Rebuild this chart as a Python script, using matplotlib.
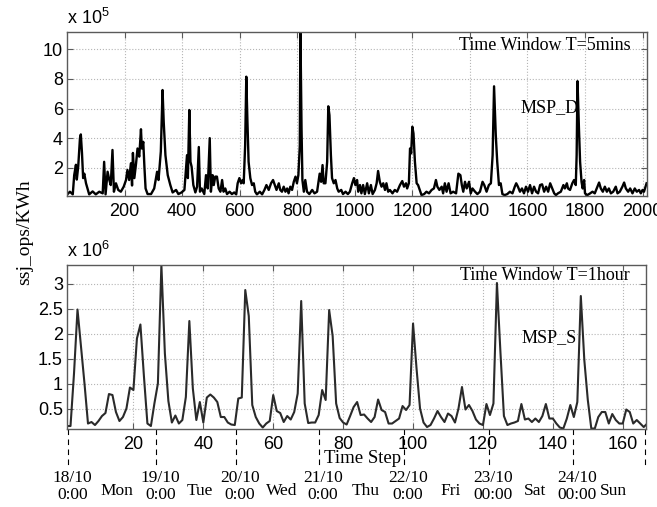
"""Two-panel MSP chart: 5-min and 1-hour time windows."""
import numpy as np
import matplotlib
matplotlib.use('Agg')
import matplotlib.pyplot as plt
from matplotlib.transforms import blended_transform_factory

# ── Data: top panel (T=5mins), values in units of 1e5 ───────────────────
top_step = [
    2, 10, 20, 25, 31, 34, 39, 45, 48, 52, 56, 60,
    66, 71, 77, 89, 100, 112, 124, 129, 134, 141, 147, 152,
    158, 163, 170, 178, 187, 197, 205, 210, 216, 222, 226, 229,
    234, 240, 245, 251, 257, 260, 265, 269, 273, 280, 292, 303,
    313, 318, 326, 332, 336, 342, 350, 359, 367, 379, 387, 398,
    408, 417, 420, 425, 429, 433, 439, 446, 452, 458, 462, 468,
    477, 483, 489, 496, 500, 506, 510, 515, 521, 527, 533, 539,
    544, 550, 556, 565, 573, 581, 588, 593, 599, 605, 610, 614,
    619, 623, 627, 631, 637, 643, 649, 654, 660, 670, 678, 686,
    693, 701, 709, 716, 722, 728, 736, 741, 747, 753, 759, 765,
    770, 776, 782, 788, 794, 799, 804, 809, 811, 815, 818, 823,
    828, 834, 842, 852, 860, 869, 875, 878, 883, 888, 892, 898,
    904, 908, 912, 917, 921, 927, 933, 939, 944, 953, 959, 968,
    976, 983, 991, 997, 1002, 1008, 1012, 1018, 1023, 1029, 1035, 1043,
    1049, 1056, 1062, 1070, 1076, 1081, 1087, 1093, 1099, 1105, 1110, 1116,
    1122, 1131, 1139, 1147, 1157, 1165, 1171, 1178, 1182, 1188, 1192, 1196,
    1200, 1204, 1209, 1215, 1220, 1226, 1232, 1241, 1249, 1258, 1267, 1275,
    1282, 1287, 1294, 1302, 1307, 1313, 1319, 1326, 1333, 1342, 1352, 1360,
    1367, 1372, 1377, 1383, 1389, 1397, 1403, 1409, 1418, 1426, 1435, 1444,
    1450, 1458, 1466, 1473, 1479, 1484, 1490, 1495, 1501, 1507, 1513, 1521,
    1530, 1539, 1548, 1556, 1561, 1567, 1574, 1581, 1588, 1595, 1602, 1609,
    1616, 1623, 1630, 1637, 1644, 1651, 1658, 1665, 1672, 1679, 1686, 1693,
    1699, 1706, 1716, 1725, 1730, 1737, 1741, 1748, 1756, 1762, 1768, 1771,
    1774, 1779, 1783, 1788, 1792, 1797, 1800, 1808, 1818, 1826, 1834, 1843,
    1849, 1855, 1862, 1869, 1876, 1883, 1890, 1898, 1907, 1913, 1921, 1930,
    1936, 1942, 1950, 1957, 1965, 1973, 1980, 1988, 1994, 2000, 2005, 2014,
]
top_value = [
    0.22, 0.38, 0.20, 1.50, 2.20, 1.20, 2.10, 4.00, 4.25, 3.00, 1.30, 1.60,
    0.95, 0.60, 0.20, 0.40, 0.20, 0.38, 0.27, 2.40, 0.20, 1.73, 1.17, 0.83,
    3.20, 0.38, 0.95, 0.50, 0.38, 0.72, 1.17, 1.85, 1.17, 2.30, 0.80, 3.00,
    1.30, 2.30, 3.30, 2.75, 4.60, 3.30, 3.75, 2.05, 0.60, 0.22, 0.22, 0.60,
    1.73, 1.17, 3.10, 7.25, 5.10, 2.85, 1.50, 0.83, 0.33, 0.50, 0.22, 0.33,
    0.50, 2.85, 1.30, 5.90, 2.40, 2.07, 0.83, 0.33, 0.72, 3.40, 0.38, 0.60,
    0.22, 1.50, 0.60, 4.00, 0.38, 1.50, 0.83, 1.40, 1.40, 0.60, 0.38, 1.17,
    0.38, 0.60, 0.22, 0.38, 0.22, 0.33, 0.20, 0.95, 1.30, 0.95, 1.17, 0.95,
    3.50, 8.15, 5.10, 2.40, 1.30, 0.83, 0.95, 0.38, 0.20, 0.38, 0.20, 0.50,
    0.83, 0.50, 0.95, 1.17, 0.83, 0.50, 0.95, 0.50, 0.38, 0.72, 0.38, 0.60,
    0.27, 0.72, 0.50, 1.05, 1.40, 0.95, 1.50, 3.50, 11.5, 4.65, 1.17, 0.38,
    1.17, 0.38, 0.22, 0.50, 0.27, 0.38, 1.17, 1.60, 1.05, 2.18, 0.95, 0.95,
    2.40, 6.15, 5.55, 2.85, 1.30, 0.95, 1.17, 0.60, 0.38, 0.50, 0.22, 0.38,
    0.22, 0.38, 0.95, 1.30, 0.83, 1.17, 0.38, 0.83, 0.27, 0.83, 0.22, 0.95,
    0.27, 0.83, 0.22, 0.50, 0.95, 1.78, 1.05, 0.72, 0.95, 0.50, 0.95, 0.38,
    0.50, 0.27, 0.50, 0.38, 0.83, 1.10, 0.72, 0.95, 0.60, 0.95, 3.30, 2.97,
    4.77, 4.32, 2.40, 0.95, 0.83, 0.50, 0.15, 0.22, 0.38, 0.27, 0.50, 0.60,
    1.17, 0.72, 0.50, 0.72, 0.27, 0.95, 0.38, 0.95, 0.27, 0.38, 0.27, 1.60,
    1.50, 0.83, 0.38, 1.05, 0.60, 1.05, 0.27, 0.60, 0.38, 0.22, 0.38, 1.05,
    0.83, 0.38, 0.83, 0.95, 2.85, 7.50, 4.20, 2.40, 0.83, 0.95, 0.22, 0.15,
    0.22, 0.38, 0.27, 0.72, 0.95, 0.72, 0.38, 0.60, 0.27, 0.72, 0.38, 0.83,
    0.27, 0.72, 0.38, 0.27, 0.83, 0.88, 0.38, 0.72, 0.38, 0.95, 0.60, 0.27,
    0.15, 0.27, 0.38, 0.83, 0.60, 0.95, 0.60, 0.50, 0.95, 1.17, 0.83, 2.85,
    7.85, 4.65, 2.40, 1.05, 0.60, 1.17, 0.27, 0.15, 0.27, 0.38, 0.27, 0.72,
    1.00, 0.60, 0.38, 0.72, 0.38, 0.60, 0.27, 0.38, 0.72, 0.27, 0.38, 0.72,
    1.00, 0.60, 0.38, 0.60, 0.27, 0.60, 0.38, 0.50, 0.27, 0.50, 0.38, 0.95,
]
assert len(top_step) == len(top_value)

# ── Data: bottom panel (T=1hour), values in units of 1e6 ────────────────
hour_value = [
    0.15, 0.15, 1.20, 2.48, 1.75, 1.00, 0.20, 0.23, 0.17, 0.25,   # 1-10
    0.35, 0.41, 0.79, 0.77, 0.43, 0.25, 0.33, 0.50, 0.92, 0.87,   # 11-20
    1.90, 2.18, 1.15, 0.20, 0.15, 0.60, 1.00, 3.37, 1.60, 0.65,   # 21-30
    0.22, 0.36, 0.20, 0.27, 0.73, 2.25, 0.90, 0.27, 0.63, 0.22,   # 31-40
    0.72, 0.78, 0.72, 0.63, 0.33, 0.33, 0.22, 0.18, 0.17, 0.70,   # 41-50
    0.72, 2.87, 2.35, 0.57, 0.33, 0.20, 0.12, 0.20, 0.25, 0.77,   # 51-60
    0.45, 0.41, 0.23, 0.35, 0.28, 0.43, 0.80, 2.65, 0.60, 0.21,   # 61-70
    0.22, 0.22, 0.37, 0.87, 0.67, 2.47, 1.95, 0.60, 0.31, 0.22,   # 71-80
    0.18, 0.35, 0.53, 0.63, 0.37, 0.38, 0.30, 0.23, 0.33, 0.68,   # 81-90
    0.47, 0.43, 0.20, 0.20, 0.25, 0.30, 0.55, 0.47, 0.57, 2.20,   # 91-100
    1.30, 0.50, 0.22, 0.13, 0.17, 0.30, 0.45, 0.33, 0.23, 0.40,   # 101-110
    0.35, 0.22, 0.50, 0.93, 0.48, 0.57, 0.45, 0.28, 0.20, 0.17,   # 111-120
    0.59, 0.37, 0.60, 3.01, 1.63, 0.35, 0.17, 0.20, 0.22, 0.25,   # 121-130
    0.59, 0.28, 0.30, 0.23, 0.30, 0.23, 0.35, 0.59, 0.30, 0.30,   # 131-140
    0.20, 0.12, 0.10, 0.30, 0.57, 0.33, 0.63, 2.75, 1.47, 0.67,   # 141-150
    0.10, 0.10, 0.33, 0.43, 0.43, 0.20, 0.39, 0.27, 0.20, 0.20,   # 151-160
    0.48, 0.43, 0.20, 0.27, 0.20, 0.13, 0.20,                     # 161-167
]
hour_step = np.arange(1, len(hour_value) + 1)

day_start = [1.4, 26.5, 49.3, 73.0, 97.4, 121.7, 145.7, 166.3]
day_date = ['18/10\n0:00', '19/10\n0:00', '20/10\n0:00', '21/10\n0:00',
            '22/10\n0:00', '23/10\n00:00', '24/10\n00:00', '']
day_name = ['Mon', 'Tue', 'Wed', 'Thu', 'Fri', 'Sat', 'Sun']

SANS = 'Liberation Sans'
SERIF = 'Liberation Serif'
plt.rcParams.update({'font.family': SANS, 'mathtext.fontset': 'custom',
                     'mathtext.rm': SANS, 'mathtext.it': SANS})

fig = plt.figure(figsize=(6.57, 5.07), dpi=100)
ax1 = fig.add_axes([0.102, 0.6134, 0.883, 0.3235])
ax2 = fig.add_axes([0.102, 0.1538, 0.881, 0.3235])


def style(ax):
    for sp in ax.spines.values():
        sp.set_color('#5a5a5a')
        sp.set_linewidth(1.0)
    ax.tick_params(direction='in', top=True, right=True, length=4, width=0.8,
                   color='#5a5a5a', labelsize=13, pad=5)
    ax.tick_params(axis='y', pad=3)
    ax.grid(True, ls=':', color='#b5b5b5', lw=0.8)
    ax.set_axisbelow(True)


# ── Painel superior ─────────────────────────────────────────────────────
ax1.plot(top_step, top_value, color='black', lw=1.7)
ax1.set_xlim(0, 2016)
ax1.set_ylim(0.09, 11.17)
ax1.set_xticks(np.arange(200, 2001, 200))
ax1.set_yticks([2, 4, 6, 8, 10])
style(ax1)
ax1.text(0.0, 1.025, r'x 10$^{5}$', transform=ax1.transAxes, fontsize=13,
         ha='left', va='bottom')
ax1.text(0.971, 0.92, 'Time Window T=5mins', transform=ax1.transAxes,
         family=SERIF, fontsize=13, ha='right', va='center')
ax1.text(0.781, 0.537, 'MSP_D', transform=ax1.transAxes,
         family=SERIF, fontsize=13, ha='left', va='center')

# ── Painel inferior ─────────────────────────────────────────────────────
ax2.plot(hour_step, hour_value, color='#2a2a2a', lw=1.5)
ax2.set_xlim(1, 166.6)
ax2.set_ylim(0.09, 3.37)
ax2.set_xticks(np.arange(20, 161, 20))
ax2.set_yticks([0.5, 1, 1.5, 2, 2.5, 3])
ax2.set_yticklabels(['0.5', '1', '1.5', '2', '2.5', '3'])
style(ax2)
ax2.text(0.0, 1.025, r'x 10$^{6}$', transform=ax2.transAxes, fontsize=13,
         ha='left', va='bottom')
ax2.text(0.972, 0.939, 'Time Window T=1hour', transform=ax2.transAxes,
         family=SERIF, fontsize=13, ha='right', va='center')
ax2.text(0.786, 0.555, 'MSP_S', transform=ax2.transAxes,
         family=SERIF, fontsize=13, ha='left', va='center')
ax2.text(0.51, -0.18, 'Time Step', transform=ax2.transAxes,
         family=SERIF, fontsize=13.5, ha='center', va='center')

# day boundaries below the axis
trans = blended_transform_factory(ax2.transData, ax2.transAxes)
for x0, lab in zip(day_start, day_date):
    ax2.plot([x0, x0], [0, -0.225], transform=trans, clip_on=False,
             color='black', lw=0.8, ls=(0, (5, 4)))
    if lab:
        ax2.text(x0 + 1.2, -0.35, lab, transform=trans, family=SERIF,
                 fontsize=12.5, ha='center', va='center', linespacing=1.05)
for a, b, name in zip(day_start[:-1], day_start[1:], day_name):
    ax2.text((a + b) / 2 + 1.2, -0.375, name, transform=trans, family=SERIF,
             fontsize=12.5, ha='center', va='center')

fig.text(25 / 657, 1 - 232 / 507, 'ssj_ops/KWh', rotation=90, family=SERIF,
         fontsize=14, ha='center', va='center')

fig.savefig('out.png', dpi=100)
